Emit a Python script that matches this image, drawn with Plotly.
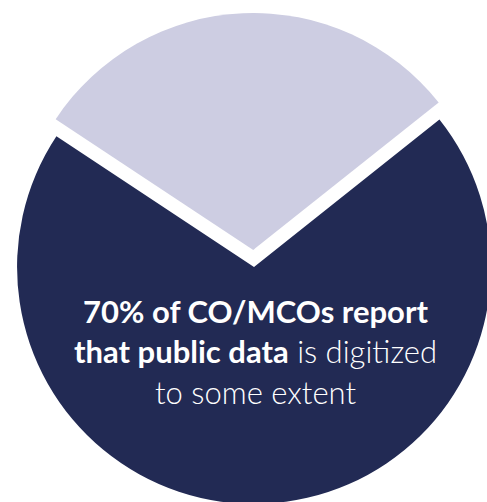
import plotly.graph_objects as go

# Share of CO/MCOs by whether public data is digitized
labels = ["Digitized to some extent", "Not digitized"]
values = [70, 30]
colors = ["#222A54", "#CDCDE2"]
pulls = [0, 0.072]

W, H = 508, 534

fig = go.Figure(
    go.Pie(
        labels=labels,
        values=values,
        sort=False,
        direction="clockwise",
        rotation=51.5,
        pull=pulls,
        marker=dict(colors=colors, line=dict(width=0)),
        textinfo="none",
        hoverinfo="label+percent",
        domain=dict(x=[0, 1], y=[0, 1]),
    )
)

caption = (
    "<b>70% of CO/MCOs report</b><br>"
    "<b>that public data</b><span style='font-weight:300'> is digitized</span><br>"
    "<span style='font-weight:300'>to some extent</span>"
)

fig.add_annotation(
    text=caption,
    x=255 / W,
    y=1 - 351 / H,
    xref="paper",
    yref="paper",
    xanchor="center",
    yanchor="middle",
    showarrow=False,
    align="center",
    font=dict(family="Lato", size=31, color="white"),
)

fig.update_layout(
    width=W,
    height=H,
    margin=dict(l=0, r=0, t=0, b=0),
    showlegend=False,
    paper_bgcolor="white",
    plot_bgcolor="white",
)

fig.write_html(
    "out.html",
    post_script=(
        "document.documentElement.style.overflow='hidden';"
        "document.body.style.overflow='hidden';"
        "document.body.style.margin='0';"
    ),
)
